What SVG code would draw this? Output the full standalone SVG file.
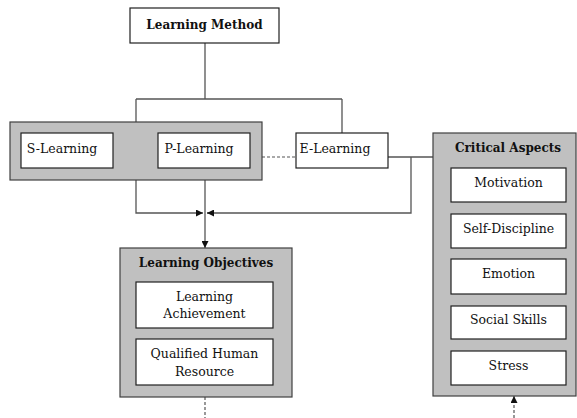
<svg xmlns="http://www.w3.org/2000/svg" width="577" height="418" viewBox="0 0 577 418">
<style>
.grp{fill:#c0c0c0;stroke:#404040;stroke-width:1.2}
.box{fill:#fff;stroke:#202020;stroke-width:1.2}
text{font-family:"DejaVu Serif","Liberation Serif",serif;font-size:12.5px;fill:#111;text-anchor:middle}
.b{font-weight:bold;font-size:12px}
.ln{fill:none;stroke:#555;stroke-width:1.3}
.dash{fill:none;stroke:#555;stroke-width:1.2;stroke-dasharray:3,2}
</style>
<defs>
<marker id="ah" viewBox="0 0 10 10" refX="10" refY="5" markerWidth="7" markerHeight="7" markerUnits="userSpaceOnUse" orient="auto">
<path d="M0,0 L10,5 L0,10 Z" fill="#111"/>
</marker>
</defs>
<rect width="577" height="418" fill="#fff"/>
<g id="connectors">
<path class="ln" d="M205,43 V99 M136,99 H342 M136,99 V122 M342,99 V133"/>
<path class="dash" d="M262,157 H296"/>
<path class="ln" d="M388,157 H433 M411,157 V213 H207"/>
<path class="ln" d="M210,213 H207" marker-end="url(#ah)"/>
<path class="ln" d="M136,180 V213 H203" marker-end="url(#ah)"/>
<path class="ln" d="M205,180 V248" marker-end="url(#ah)"/>
<path class="dash" d="M205,397 V418"/>
<path class="dash" d="M514,418 V396" marker-end="url(#ah)"/>
</g>
<g id="learning-method">
<rect class="box" x="130" y="8" width="149" height="35"/>
<text class="b" x="204.5" y="29">Learning Method</text>
</g>
<g id="sp-group">
<rect class="grp" x="10" y="122" width="252" height="58"/>
</g>
<g id="s-learning">
<rect class="box" x="21" y="133" width="92" height="35"/>
<text x="62" y="153">S-Learning</text>
</g>
<g id="p-learning">
<rect class="box" x="158" y="133" width="92" height="35"/>
<text x="199" y="153">P-Learning</text>
</g>
<g id="e-learning">
<rect class="box" x="296" y="133" width="92" height="35"/>
<text x="335" y="153">E-Learning</text>
</g>
<g id="learning-objectives">
<rect class="grp" x="120" y="248" width="172" height="149"/>
<text class="b" x="206" y="267">Learning Objectives</text>
</g>
<g id="learning-achievement">
<rect class="box" x="136" y="282" width="137" height="46"/>
<text x="204.5" y="301">Learning</text>
<text x="204.5" y="318">Achievement</text>
</g>
<g id="qualified-human-resource">
<rect class="box" x="136" y="339" width="137" height="46"/>
<text x="204.5" y="358">Qualified Human</text>
<text x="204.5" y="376">Resource</text>
</g>
<g id="critical-aspects">
<rect class="grp" x="433" y="133" width="143" height="263"/>
<text class="b" x="508" y="152">Critical Aspects</text>
</g>
<g id="motivation">
<rect class="box" x="451" y="168" width="115" height="34"/>
<text x="508.5" y="187">Motivation</text>
</g>
<g id="self-discipline">
<rect class="box" x="451" y="214" width="115" height="34"/>
<text x="508.5" y="233">Self-Discipline</text>
</g>
<g id="emotion">
<rect class="box" x="451" y="259" width="115" height="35"/>
<text x="508.5" y="278">Emotion</text>
</g>
<g id="social-skills">
<rect class="box" x="451" y="306" width="115" height="33"/>
<text x="508.5" y="324">Social Skills</text>
</g>
<g id="stress">
<rect class="box" x="451" y="351" width="115" height="34"/>
<text x="508.5" y="370">Stress</text>
</g>
</svg>
